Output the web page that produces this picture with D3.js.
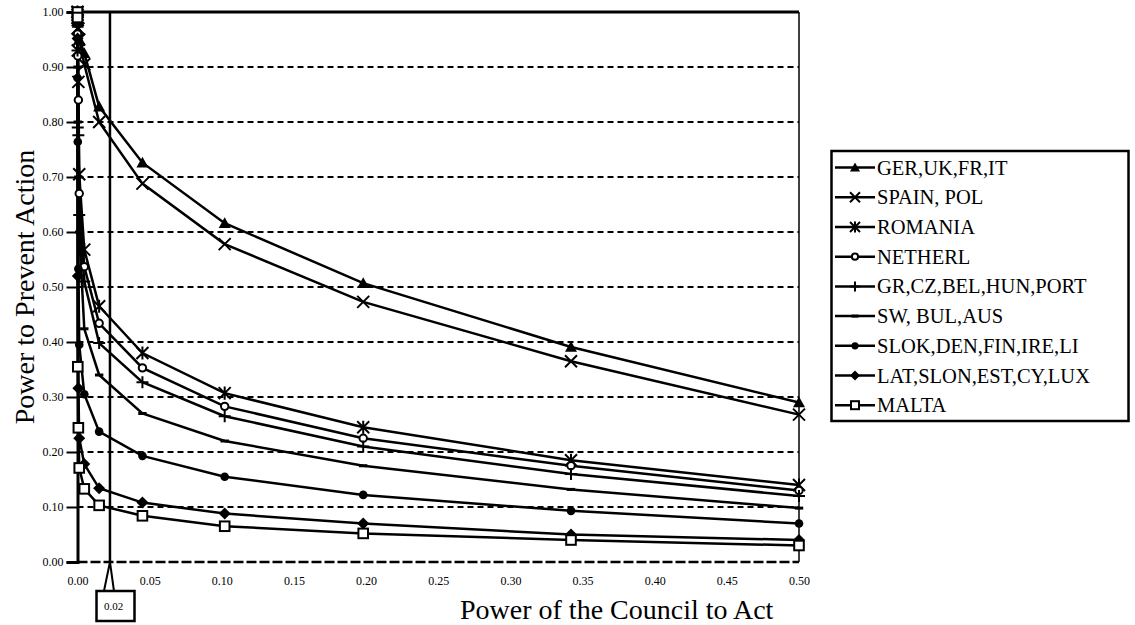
<!DOCTYPE html>
<html>
<head>
<meta charset="utf-8">
<script src="https://cdn.jsdelivr.net/npm/d3@7"></script>
<style>
  body { margin: 0; background: #fff; }
  svg { display: block; }
  svg text { font-family: "Liberation Serif", "Times New Roman", Times, serif !important; }
</style>
</head>
<body>
<div id="chart"></div>
<script>
// x values shared by all series (power of the Council to act)
const councilPower = [0, 0.00003, 0.0002, 0.0006, 0.0012, 0.0047, 0.015, 0.045, 0.102, 0.198, 0.342, 0.5];

const seriesNames = [
  'GER,UK,FR,IT', 'SPAIN, POL', 'ROMANIA', 'NETHERL', 'GR,CZ,BEL,HUN,PORT',
  'SW, BUL,AUS', 'SLOK,DEN,FIN,IRE,LI', 'LAT,SLON,EST,CY,LUX', 'MALTA'
];
const markerTypes = ['triangle', 'x', 'asterisk', 'circleOpen', 'plus', 'dash', 'dot', 'diamond', 'square'];

const gerUkFrIt   = [1.00, 0.99, 0.98, 0.965, 0.95, 0.925, 0.828, 0.726, 0.616, 0.507, 0.391, 0.290];
const spainPol    = [1.00, 0.995, 0.985, 0.97, 0.95, 0.905, 0.800, 0.688, 0.578, 0.473, 0.365, 0.268];
const romania     = [1.00, 0.97, 0.93, 0.873, 0.705, 0.568, 0.465, 0.380, 0.307, 0.245, 0.185, 0.140];
const netherl     = [1.00, 0.96, 0.92, 0.84, 0.67, 0.537, 0.434, 0.353, 0.283, 0.225, 0.175, 0.130];
const grCzBel     = [1.00, 0.93, 0.79, 0.776, 0.631, 0.51, 0.398, 0.327, 0.265, 0.210, 0.160, 0.120];
const swBulAus    = [1.00, 0.90, 0.80, 0.70, 0.60, 0.424, 0.340, 0.270, 0.220, 0.175, 0.132, 0.098];
const slokDenFin  = [1.00, 0.88, 0.764, 0.533, 0.395, 0.305, 0.237, 0.193, 0.155, 0.122, 0.093, 0.070];
const latSlonEst  = [1.00, 0.952, 0.52, 0.316, 0.225, 0.178, 0.134, 0.108, 0.088, 0.070, 0.050, 0.040];
const malta       = [1.00, 0.99, 0.355, 0.244, 0.171, 0.133, 0.103, 0.084, 0.065, 0.052, 0.040, 0.030];

const seriesValues = [gerUkFrIt, spainPol, romania, netherl, grCzBel, swBulAus, slokDenFin, latSlonEst, malta];

const xTicks = [0, 0.05, 0.10, 0.15, 0.20, 0.25, 0.30, 0.35, 0.40, 0.45, 0.50];
const yTicks = [0, 0.1, 0.2, 0.3, 0.4, 0.5, 0.6, 0.7, 0.8, 0.9, 1.0];
const refLineX = 0.0225;
const refLabel = '0.02';

document.addEventListener('DOMContentLoaded', function () {
  const W = 1135, H = 625;
  const serif = '"Liberation Serif", "Times New Roman", Times, serif';
  const svg = d3.select('#chart')
    .append('svg')
    .attr('width', W)
    .attr('height', H);

  svg.append('rect').attr('width', W).attr('height', H).attr('fill', '#fff');

  const x = d3.scaleLinear().domain([0, 0.5]).range([77.5, 799]);
  const y = d3.scaleLinear().domain([0, 1]).range([562, 12]);

  // gridlines
  svg.append('g')
    .selectAll('line')
    .data(yTicks.filter(d => d < 1))
    .join('line')
    .attr('x1', x(0)).attr('x2', x(0.5))
    .attr('y1', d => y(d)).attr('y2', d => y(d))
    .attr('stroke', '#000')
    .attr('stroke-width', d => d === 0 ? 2.5 : 2)
    .attr('stroke-dasharray', d => d === 0 ? '10,3' : '6,4');

  // plot frame: top, right
  svg.append('line').attr('x1', x(0)).attr('x2', x(0.5)).attr('y1', y(1)).attr('y2', y(1))
    .attr('stroke', '#000').attr('stroke-width', 3);
  svg.append('line').attr('x1', x(0.5)).attr('x2', x(0.5)).attr('y1', y(1)).attr('y2', y(0))
    .attr('stroke', '#000').attr('stroke-width', 1.5);

  // y axis
  const yAxis = svg.append('g')
    .attr('transform', `translate(${x(0)},0)`)
    .call(d3.axisLeft(y).tickValues(yTicks).tickFormat(d3.format('.2f')).tickSize(11).tickPadding(3));
  yAxis.attr('font-family', serif);
  yAxis.select('.domain').attr('stroke-width', 3);
  yAxis.selectAll('.tick line').attr('stroke-width', 2);
  yAxis.selectAll('.tick text').attr('font-size', 12);

  // x axis (labels only)
  const xAxis = svg.append('g')
    .attr('transform', `translate(0,${y(0)})`)
    .call(d3.axisBottom(x).tickValues(xTicks).tickFormat(d3.format('.2f')).tickSize(0).tickPadding(14));
  xAxis.attr('font-family', serif);
  xAxis.select('.domain').remove();
  xAxis.selectAll('.tick text').attr('font-size', 12);

  // reference line at 0.02 with callout
  const rx = x(refLineX);
  svg.append('line').attr('x1', rx).attr('x2', rx).attr('y1', y(1)).attr('y2', y(0))
    .attr('stroke', '#000').attr('stroke-width', 2.5);
  svg.append('path')
    .attr('d', `M${rx - 6},591 L${rx},${y(0)} L${rx + 4},591`)
    .attr('fill', 'none').attr('stroke', '#000').attr('stroke-width', 2);
  svg.append('rect')
    .attr('x', 96.5).attr('y', 591).attr('width', 38).attr('height', 30)
    .attr('fill', '#fff').attr('stroke', '#000').attr('stroke-width', 2.5);
  svg.append('text')
    .attr('x', 113.5).attr('y', 606)
    .attr('text-anchor', 'middle').attr('dominant-baseline', 'central')
    .attr('font-size', 11).text(refLabel);

  // marker drawing
  function drawMarker(g, type, s) {
    if (type === 'triangle') {
      g.append('path').attr('d', `M0,${-s} L${s},${s * 0.8} L${-s},${s * 0.8} Z`).attr('fill', '#000');
    } else if (type === 'x') {
      g.append('path').attr('d', `M${-s},${-s} L${s},${s} M${-s},${s} L${s},${-s}`)
        .attr('stroke', '#000').attr('stroke-width', 2);
    } else if (type === 'asterisk') {
      g.append('path').attr('d', `M${-s},${-s} L${s},${s} M${-s},${s} L${s},${-s} M0,${-s * 1.1} L0,${s * 1.1}`)
        .attr('stroke', '#000').attr('stroke-width', 2);
    } else if (type === 'circleOpen') {
      g.append('circle').attr('r', s * 0.62).attr('fill', '#fff').attr('stroke', '#000').attr('stroke-width', 2);
    } else if (type === 'plus') {
      g.append('path').attr('d', `M${-s},0 L${s},0 M0,${-s} L0,${s}`)
        .attr('stroke', '#000').attr('stroke-width', 2);
    } else if (type === 'dash') {
      g.append('path').attr('d', `M${-s * 0.7},0 L${s * 0.7},0`)
        .attr('stroke', '#000').attr('stroke-width', 3);
    } else if (type === 'dot') {
      g.append('circle').attr('r', s * 0.72).attr('fill', '#000');
    } else if (type === 'diamond') {
      g.append('path').attr('d', `M0,${-s} L${s},0 L0,${s} L${-s},0 Z`).attr('fill', '#000');
    } else if (type === 'square') {
      g.append('rect').attr('x', -s * 0.8).attr('y', -s * 0.8).attr('width', s * 1.6).attr('height', s * 1.6)
        .attr('fill', '#fff').attr('stroke', '#000').attr('stroke-width', 2);
    }
  }

  const line = d3.line()
    .x((d, i) => x(councilPower[i]))
    .y(d => y(d));

  // series lines
  svg.append('g')
    .selectAll('path')
    .data(seriesValues)
    .join('path')
    .attr('fill', 'none')
    .attr('stroke', '#000')
    .attr('stroke-width', 2.5)
    .attr('d', line);

  // series markers
  seriesValues.forEach((vals, si) => {
    const g = svg.append('g');
    vals.forEach((v, i) => {
      const m = g.append('g').attr('transform', `translate(${x(councilPower[i])},${y(v)})`);
      drawMarker(m, markerTypes[si], 6);
    });
  });

  // axis titles
  svg.append('text')
    .attr('transform', 'translate(24,287) rotate(-90)')
    .attr('text-anchor', 'middle').attr('dominant-baseline', 'central')
    .attr('font-size', 28).text('Power to Prevent Action');
  svg.append('text')
    .attr('x', 460).attr('y', 619)
    .attr('font-size', 28).text('Power of the Council to Act');

  // legend
  const legend = svg.append('g');
  legend.append('rect')
    .attr('x', 831.5).attr('y', 151).attr('width', 297).attr('height', 270)
    .attr('fill', '#fff').attr('stroke', '#000').attr('stroke-width', 2.5);
  seriesNames.forEach((name, i) => {
    const ly = 167.6 + i * 29.7;
    legend.append('line').attr('x1', 835).attr('x2', 875).attr('y1', ly).attr('y2', ly)
      .attr('stroke', '#000').attr('stroke-width', 2.5);
    const m = legend.append('g').attr('transform', `translate(855,${ly})`);
    drawMarker(m, markerTypes[i], 5);
    legend.append('text')
      .attr('x', 877).attr('y', ly)
      .attr('dominant-baseline', 'central')
      .attr('font-size', 20.5).text(name);
  });

  svg.selectAll('text').style('font-family', serif);
});
</script>
</body>
</html>
